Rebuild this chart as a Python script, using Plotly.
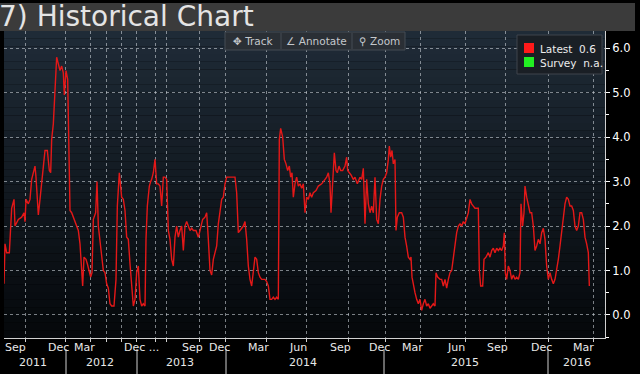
import plotly.graph_objects as go

# ---------------- data (observation number along the Bloomberg time axis, value) -------------
obs = [12, 15, 20, 28, 35, 42, 45, 55, 65, 72, 75, 78, 85, 90, 95, 100, 105, 108, 112, 115,
       120, 128, 135, 142, 148, 152, 155, 160, 165, 170, 175, 180, 185, 190, 193, 198, 203, 207,
       210, 215, 222, 228, 235, 240, 245, 248, 252, 258, 262, 268, 272, 276, 280, 287, 291, 295,
       300, 305, 310, 315, 320, 325, 330, 335, 342, 348, 352, 358,
       365, 370, 375, 380, 385, 390, 395, 400, 405, 410, 415, 420, 425, 430, 435, 438, 442, 448,
       452, 455, 460, 465, 470, 475, 480, 485, 490, 495, 500, 505, 510, 515, 520, 525, 530, 535,
       540, 545, 550, 555, 560, 565, 570, 575, 580, 588, 595, 600, 608, 615, 620, 625, 630, 635,
       640, 645, 650, 655, 660, 665, 670, 675, 680, 690, 700, 705, 710, 715, 720,
       730, 735, 740, 745, 750, 755, 760, 765, 770, 775, 780, 785, 790, 795, 800, 805, 810, 815,
       820, 825, 830, 835, 838, 842, 848, 853, 858, 863, 868, 872, 876, 880, 885, 890, 895, 900,
       905, 910, 915, 920, 925, 930, 935, 940, 948, 955, 965, 975, 980, 985, 990, 993, 998, 1003,
       1008, 1012, 1017, 1022, 1028, 1035, 1040, 1043, 1048, 1053, 1060, 1065, 1072, 1080,
       1085, 1090, 1095, 1100, 1105, 1110, 1115, 1120, 1125, 1130, 1135, 1140, 1145, 1150, 1155,
       1160, 1165, 1168, 1172, 1176, 1180, 1185, 1188, 1192, 1198, 1205, 1210, 1215, 1220, 1225,
       1230, 1233, 1236, 1240, 1245, 1250, 1255, 1260, 1265, 1270, 1275, 1280, 1285, 1290, 1295,
       1300, 1305, 1308, 1313, 1320, 1325, 1330, 1335, 1340, 1345, 1350, 1355, 1360, 1365, 1370,
       1375, 1380, 1385, 1390, 1395, 1400, 1405, 1410, 1415, 1420, 1425, 1430, 1435, 1438,
       1442, 1448, 1452, 1458, 1465, 1470, 1475, 1480, 1485, 1490, 1495, 1500, 1505, 1510, 1513,
       1516, 1520, 1525, 1530, 1535, 1540, 1545, 1550, 1555, 1560, 1563, 1568, 1572, 1575, 1580,
       1585, 1590, 1595, 1600, 1605, 1610, 1615, 1620, 1625, 1630, 1635, 1640, 1645, 1650, 1655,
       1660, 1665, 1670, 1675, 1680, 1685, 1690, 1695, 1700, 1705, 1710, 1715, 1720, 1725, 1730,
       1735, 1740, 1745, 1750, 1755, 1760, 1765, 1768]

values = [0.7, 1.6, 1.4, 1.4, 2.4, 2.6, 2.0, 2.15, 2.2, 2.3, 2.1, 2.6, 2.5, 2.6, 3.05, 3.2, 3.35, 3.1, 2.45, 2.25,
          2.6, 3.2, 3.7, 3.7, 3.25, 3.2, 3.95, 4.3, 5.0, 5.8, 5.65, 5.5, 5.6, 5.45, 4.95, 5.5, 5.3, 3.95,
          2.35, 2.3, 2.15, 2.0, 1.9, 1.6, 1.1, 0.65, 1.3, 1.25, 1.15, 0.95, 0.85, 0.95, 2.15, 2.3, 3.0, 2.0,
          1.7, 1.3, 1.0, 0.95, 0.7, 0.6, 0.25, 0.2, 0.2, 0.8, 2.45, 3.2,
          2.65, 2.6, 2.35, 1.75, 1.7, 1.15, 0.65, 0.2, 0.35, 0.95, 1.1, 0.35, 0.2, 0.25, 0.2, 1.7, 2.45, 2.9,
          3.0, 3.05, 3.2, 3.5, 2.95, 2.95, 2.9, 2.45, 3.1, 3.1, 3.05, 1.9, 1.7, 1.25, 1.1, 1.75, 2.0, 1.75,
          1.9, 2.0, 1.45, 2.0, 2.1, 2.0, 1.9, 1.95, 1.9, 1.9, 1.75, 1.9, 2.15, 2.2, 2.3, 1.7, 1.0, 0.9,
          1.25, 1.4, 1.55, 2.05, 2.35, 2.6, 2.65, 2.95, 3.1, 3.1, 3.1, 3.1, 2.75, 1.85, 1.9,
          2.0, 2.1, 1.7, 1.1, 0.8, 0.65, 0.95, 1.3, 1.25, 0.95, 0.85, 0.8, 0.8, 0.8, 0.75, 0.65, 0.35, 0.35,
          0.4, 0.35, 0.4, 0.35, 3.95, 4.2, 4.0, 3.5, 3.4, 3.25, 3.35, 3.1, 3.2, 2.65, 2.95, 3.1, 2.9, 2.95,
          2.85, 2.95, 2.3, 2.65, 2.6, 2.75, 2.65, 2.75, 2.8, 2.9, 2.95, 3.05, 3.1, 3.2, 2.95, 2.3, 3.05, 3.65,
          3.25, 3.2, 3.35, 3.25, 3.25, 3.35, 3.55, 3.25, 3.2, 3.15, 3.05, 3.1, 2.95, 3.1,
          3.05, 3.3, 2.05, 3.05, 2.5, 2.3, 2.45, 2.3, 3.1, 2.15, 2.05, 2.6, 2.9, 3.05, 3.1,
          3.2, 3.5, 3.8, 3.55, 3.7, 3.4, 3.5, 1.9, 2.2, 2.3, 2.3, 2.2, 1.75, 1.55, 1.3,
          1.25, 1.3, 0.85, 0.65, 0.5, 0.35, 0.25, 0.35, 0.1, 0.25, 0.35, 0.2, 0.25, 0.15, 0.2,
          0.25, 0.2, 0.95, 0.85, 0.8, 0.8, 0.65, 0.8, 0.6, 0.8, 0.95, 1.0, 1.3, 1.55, 1.85,
          2.0, 2.05, 2.0, 2.1, 2.05, 2.2, 2.3, 2.6, 2.5, 2.45, 2.4, 2.4, 2.4, 1.0,
          0.65, 0.65, 1.25, 1.3, 1.4, 1.3, 1.45, 1.5, 1.4, 1.5, 1.45, 1.5, 1.45, 1.55, 1.85,
          0.95, 0.8, 1.1, 1.0, 0.8, 0.9, 0.8, 0.85, 0.8, 0.95, 2.5, 2.0, 2.3, 2.9, 2.65,
          2.5, 2.3, 2.3, 2.0, 1.45, 1.55, 1.7, 1.6, 1.85, 1.95, 1.7, 1.1, 0.8, 0.95, 0.8,
          0.7, 0.8, 1.0, 1.25, 1.55, 1.9, 2.2, 2.5, 2.65, 2.6, 2.45, 2.45, 2.35, 2.0, 1.9,
          2.0, 2.3, 2.3, 2.15, 1.75, 1.6, 1.4, 0.65]

# gridline / tick positions on the time axis (observation numbers)
grid_obs = [75, 195, 270, 320, 365, 410, 465, 500, 597, 675, 800, 920, 1045, 1155, 1260,
            1395, 1515, 1645, 1780]
month_labels = ["Sep", "Dec", "Mar", "Dec ...", "Sep", "Dec", "Mar", "Jun", "Sep", "Dec",
                "Mar", "Jun", "Sep", "Dec", "Mar"]
month_label_obs = [45, 174, 252, 423, 576, 657, 774, 894, 1020, 1137, 1236, 1368, 1491, 1623, 1749]
year_labels = ["2011", "2012", "2013", "2014", "2015", "2016"]
year_label_obs = [100, 300, 540, 909, 1395, 1731]
year_break_obs = [198, 411, 678, 1152, 1644]

y_ticks = [0, 1, 2, 3, 4, 5, 6]
y_ticktext = ["0.0", "1.0", "2.0", "3.0", "4.0", "5.0", "6.0"]
y_minor = [-0.5, 0.5, 1.5, 2.5, 3.5, 4.5, 5.5]

latest_text = "Latest  0.6"
survey_text = "Survey  n.a."

# ---------------- figure ---------------
W, H = 640, 374
L, R, T, B = 4, 35, 31, 36
plot_w = W - L - R
plot_h = H - T - B
FONT = "DejaVu Sans"


def px_x(px):
    return (px - L) / plot_w


def px_y(py):
    return (H - B - py) / plot_h


fig = go.Figure()
fig.add_trace(go.Scatter(x=obs, y=values, mode="lines",
                         line=dict(color="rgb(228,24,24)", width=1.4),
                         hoverinfo="skip", showlegend=False))

shapes = []
# gradient background of the plot area
n_bands = 40
top_c = (31, 43, 55)
bot_c = (5, 8, 11)
for i in range(n_bands):
    f = i / (n_bands - 1)
    c = tuple(int(round(top_c[k] + (bot_c[k] - top_c[k]) * f)) for k in range(3))
    shapes.append(dict(type="rect", xref="paper", yref="paper", x0=0, x1=1,
                       y0=1 - (i + 1) / n_bands, y1=1 - i / n_bands,
                       fillcolor="rgb(%d,%d,%d)" % c, line=dict(width=0), layer="below"))
# title bar
shapes.append(dict(type="rect", xref="paper", yref="paper", x0=px_x(0), x1=px_x(635),
                   y0=px_y(31), y1=px_y(3), fillcolor="#3b3b3b", line=dict(width=0), layer="above"))
# year separators under the axis
for xo in year_break_obs:
    shapes.append(dict(type="line", xref="x", yref="paper", x0=xo, x1=xo,
                       y0=px_y(349), y1=px_y(374), line=dict(color="#cfcfcf", width=1)))
# toolbar
shapes.append(dict(type="rect", xref="paper", yref="paper", x0=px_x(225), x1=px_x(405),
                   y0=px_y(50), y1=px_y(32), fillcolor="#2a2f35",
                   line=dict(color="#454c54", width=1), layer="above"))
for sx in [281, 352]:
    shapes.append(dict(type="line", xref="paper", yref="paper", x0=px_x(sx), x1=px_x(sx),
                       y0=px_y(49), y1=px_y(33), line=dict(color="#454c54", width=1)))
# legend box
shapes.append(dict(type="rect", xref="paper", yref="paper", x0=px_x(517), x1=px_x(602),
                   y0=px_y(74), y1=px_y(35), fillcolor="#1a1f25",
                   line=dict(color="#3e454d", width=1), layer="above"))
shapes.append(dict(type="rect", xref="paper", yref="paper", x0=px_x(524), x1=px_x(534),
                   y0=px_y(53), y1=px_y(43), fillcolor="#ff1a1a", line=dict(width=0), layer="above"))
shapes.append(dict(type="rect", xref="paper", yref="paper", x0=px_x(524), x1=px_x(534),
                   y0=px_y(67), y1=px_y(57), fillcolor="#22f022", line=dict(width=0), layer="above"))

annotations = []
annotations.append(dict(text="7) Historical Chart", xref="paper", yref="paper",
                        x=px_x(-3), y=px_y(17), xanchor="left", yanchor="middle",
                        showarrow=False, font=dict(family=FONT, size=28, color="#e4e4e4")))
for txt, cx in [("✥ Track", 253), ("∠ Annotate", 316), ("⚲ Zoom", 379)]:
    annotations.append(dict(text=txt, xref="paper", yref="paper", x=px_x(cx), y=px_y(41),
                            xanchor="center", yanchor="middle", showarrow=False,
                            font=dict(family=FONT, size=10.5, color="#c4c8cc")))
annotations.append(dict(text=latest_text, xref="paper", yref="paper", x=px_x(538), y=px_y(48.5),
                        xanchor="left", yanchor="middle", showarrow=False,
                        font=dict(family=FONT, size=10.5, color="#ececec")))
annotations.append(dict(text=survey_text, xref="paper", yref="paper", x=px_x(538), y=px_y(62.5),
                        xanchor="left", yanchor="middle", showarrow=False,
                        font=dict(family=FONT, size=10.5, color="#ececec")))
for txt, xo in zip(month_labels, month_label_obs):
    annotations.append(dict(text=txt, xref="x", yref="paper", x=xo, y=px_y(347),
                            xanchor="center", yanchor="middle", showarrow=False,
                            font=dict(family=FONT, size=11, color="#e8e8e8")))
for txt, xo in zip(year_labels, year_label_obs):
    annotations.append(dict(text=txt, xref="x", yref="paper", x=xo, y=px_y(362),
                            xanchor="center", yanchor="middle", showarrow=False,
                            font=dict(family=FONT, size=11, color="#e8e8e8")))

grid_style = dict(showgrid=True, gridcolor="rgba(200,206,214,0.6)", gridwidth=1, griddash="dot")

fig.update_layout(
    width=W, height=H,
    margin=dict(l=L, r=R, t=T, b=B, pad=0),
    paper_bgcolor="black", plot_bgcolor="rgba(0,0,0,0)",
    shapes=shapes, annotations=annotations,
    xaxis=dict(range=[12, 1815], tickmode="array", tickvals=grid_obs,
               ticktext=[""] * len(grid_obs), ticks="outside", ticklen=3,
               tickcolor="#d0d0d0", showline=True, linecolor="#d0d0d0", linewidth=1,
               zeroline=False, fixedrange=True, **grid_style),
    yaxis=dict(range=[-0.52, 6.39], side="right", tickmode="array", tickvals=y_ticks,
               ticktext=y_ticktext, ticks="outside", ticklen=4, tickcolor="white",
               showline=True, linecolor="#d0d0d0", linewidth=1, zeroline=False,
               tickfont=dict(family=FONT, size=11.5, color="white"),
               minor=dict(tickmode="array", tickvals=y_minor, ticks="outside", ticklen=3,
                          tickcolor="white", showgrid=False),
               fixedrange=True, **grid_style),
    showlegend=False,
)

fig.write_html("out.html", config={"displayModeBar": False},
               post_script="document.body.style.margin='0';document.body.style.overflow='hidden';")
